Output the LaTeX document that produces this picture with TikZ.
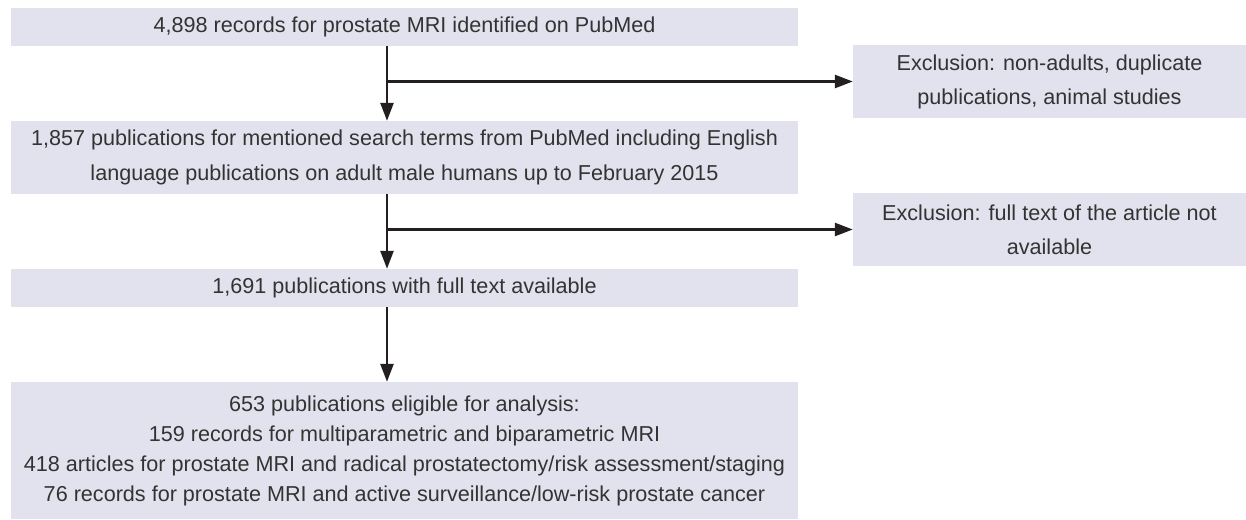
\documentclass[tikz,border=0pt]{standalone}
\usepackage{fontspec}
\setmainfont{Liberation Sans}
\usetikzlibrary{arrows.meta}
\definecolor{boxfill}{HTML}{E2E2EE}
\definecolor{txt}{HTML}{333333}
\definecolor{ln}{HTML}{231F20}
\tikzset{
  mainbox/.style={fill=boxfill, draw=none, inner sep=0pt, minimum width=787pt, align=center, text=txt,
    font=\fontsize{21.6}{34}\selectfont},
  exbox/.style={fill=boxfill, draw=none, inner sep=0pt, minimum width=393pt, minimum height=73pt, align=center, text=txt,
    font=\fontsize{21.6}{34}\selectfont},
  flow/.style={draw=ln, line width=2.6pt, -{Triangle[length=18pt,width=13pt]}},
}
\begin{document}
\begin{tikzpicture}[x=1pt,y=-1pt]
\useasboundingbox (0,0) rectangle (1246,519);
\coordinate (ax) at (387,0);
\node[mainbox, minimum height=38pt] (top) at (404.5,27) {4,898 records for prostate MRI identified on PubMed};
\node[mainbox, minimum height=73pt, font=\fontsize{21.6}{34.5}\selectfont] (b2) at (404.5,157.5) {1,857 publications for mentioned search terms from PubMed including English\\language publications on adult male humans up to February 2015};
\node[mainbox, minimum height=38pt] (b3) at (404.5,288) {1,691 publications with full text available};
\node[mainbox, minimum height=137pt, font=\fontsize{21.6}{30}\selectfont] (b4) at (404.5,450.5) {653 publications eligible for analysis:\\159 records for multiparametric and biparametric MRI\\418 articles for prostate MRI and radical prostatectomy/risk assessment/staging\\76 records for prostate MRI and active surveillance/low-risk prostate cancer};
\node[exbox] (e1) at (1049.5,81.5) {Exclusion: non-adults, duplicate\\publications, animal studies};
\node[exbox] (e2) at (1049.5,229.5) {Exclusion: full text of the article not\\available};
\draw[flow] (top.south -| ax) -- (b2.north -| ax);
\draw[flow] (ax |- e1.west) -- (e1.west);
\draw[flow] (b2.south -| ax) -- (b3.north -| ax);
\draw[flow] (ax |- e2.west) -- (e2.west);
\draw[flow] (b3.south -| ax) -- (b4.north -| ax);
\end{tikzpicture}
\end{document}
